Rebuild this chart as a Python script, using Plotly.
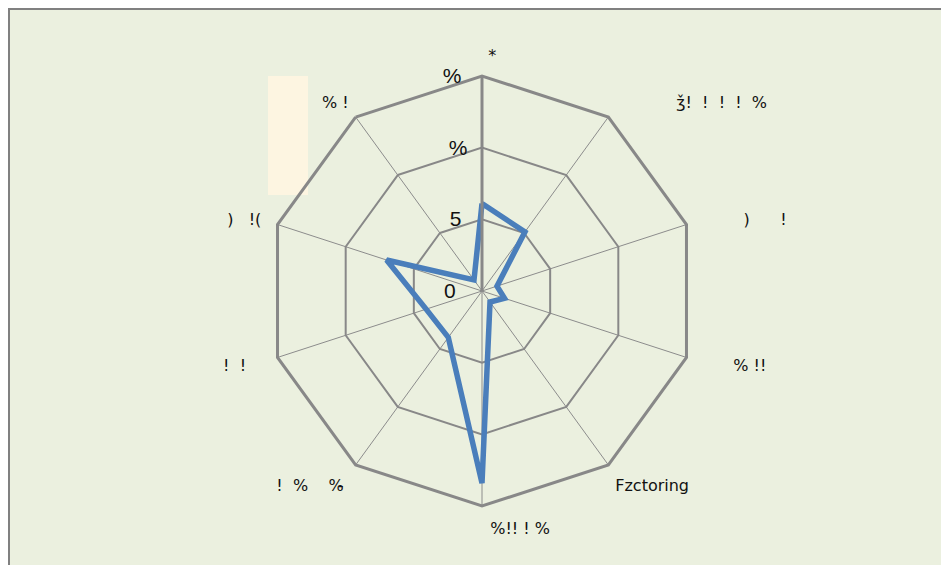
import plotly.graph_objects as go

W, H = 949, 565
NB = "\u00a0"

categories = [NB * 4 + "*",
              NB * 12 + "ǯ!  !  !  !" + NB * 2 + "%",
              NB * 9 + ")      !",
              NB * 7 + "% !!",
              "Fzctoring",
              NB * 15 + "%!! ! %",
              "!  %    %̵" + NB,
              "!  !" + NB * 4,
              ")   !(" + NB,
              "% !"]
values = [6.1, 5.1, 1.1, 1.65, 0.95, 13.4, 4.0, 4.1, 7.0, 0.95]
tick_vals = [0, 5, 10, 15]
tick_text = ["0" + NB * 3, "5" + NB * 2, "%" + NB, "%" + NB * 2]

def px(x):
    return x / W

def py(y):
    return 1 - y / H

cx, cy, R = 474, 283, 215

fig = go.Figure()
fig.add_trace(go.Scatterpolar(
    r=values + values[:1],
    theta=categories + categories[:1],
    mode="lines",
    line=dict(color="#4A7EBB", width=5.5),
    showlegend=False,
    hoverinfo="skip",
))

fig.update_layout(
    width=W, height=H,
    margin=dict(l=0, r=0, t=0, b=0),
    paper_bgcolor="white",
    plot_bgcolor="rgba(0,0,0,0)",
    showlegend=False,
    polar=dict(
        domain=dict(x=[px(cx - R), px(cx + R)], y=[py(cy + R), py(cy - R)]),
        bgcolor="rgba(0,0,0,0)",
        gridshape="linear",
        radialaxis=dict(
            range=[0, 15], tickvals=tick_vals, ticktext=tick_text,
            angle=90, tickangle=90, side="counterclockwise",
            showline=True, linecolor="#888888", linewidth=3,
            gridcolor="#888888", gridwidth=2,
            ticks="", tickfont=dict(family="Liberation Sans", size=21, color="#111111"),
        ),
        angularaxis=dict(
            direction="clockwise", rotation=90,
            showline=True, linecolor="#888888", linewidth=3,
            gridcolor="#8c8c8c", gridwidth=1,
            ticks="outside", ticklen=7, tickcolor="rgba(0,0,0,0)",
            tickfont=dict(family="DejaVu Sans", size=16, color="#111111"),
        ),
    ),
    shapes=[
        dict(type="rect", xref="paper", yref="paper", layer="below",
             x0=px(1), x1=px(938), y0=py(570), y1=py(1),
             fillcolor="#EBF0DF", line=dict(color="#808080", width=2)),
        dict(type="rect", xref="paper", yref="paper", layer="below",
             x0=px(260), x1=px(300), y0=py(187), y1=py(68),
             fillcolor="#FDF5E1", line=dict(width=0)),
    ],
)

fig.write_html("out.html")
